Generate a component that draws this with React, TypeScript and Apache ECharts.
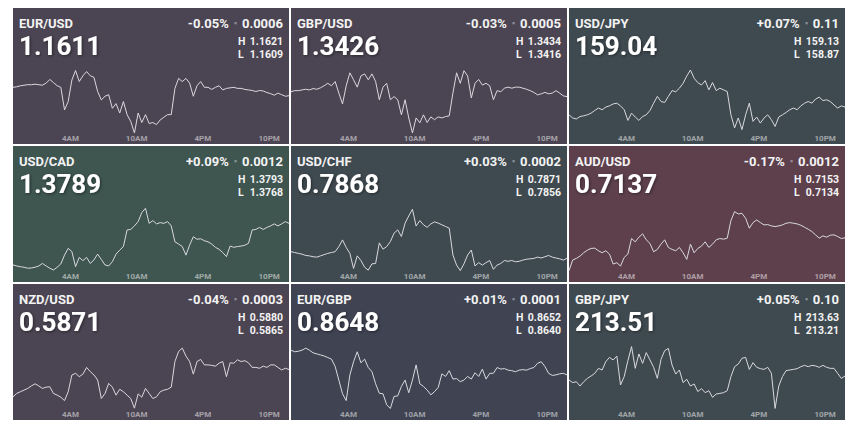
import React, { useEffect, useRef } from "react";
import * as echarts from "echarts";

// ---- data ----
const pairs = ["EUR/USD", "GBP/USD", "USD/JPY", "USD/CAD", "USD/CHF", "AUD/USD", "NZD/USD", "EUR/GBP", "GBP/JPY"];
const lastValues = ["1.1611", "1.3426", "159.04", "1.3789", "0.7868", "0.7137", "0.5871", "0.8648", "213.51"];
const changePct = ["-0.05%", "-0.03%", "+0.07%", "+0.09%", "+0.03%", "-0.17%", "-0.04%", "+0.01%", "+0.05%"];
const changeAbs = ["0.0006", "0.0005", "0.11", "0.0012", "0.0002", "0.0012", "0.0003", "0.0001", "0.10"];
const highs = ["1.1621", "1.3434", "159.13", "1.3793", "0.7871", "0.7153", "0.5880", "0.8652", "213.63"];
const lows = ["1.1609", "1.3416", "158.87", "1.3768", "0.7856", "0.7134", "0.5865", "0.8640", "213.21"];
const panelColors = ["#4b4452", "#4b4452", "#3f4a50", "#3e5550", "#3f4a50", "#5e404d", "#4b4452", "#3f4352", "#3f4a50"];

// minutes from midnight; one quote every 20 minutes starting 22:48 the previous evening
const startMinute = -72;
const stepMinutes = 20;
const endMinute = 1428;
const timeTicks = [240, 600, 960, 1320];
const timeTickLabels = ["4AM", "10AM", "4PM", "10PM"];

const eurusd = [1.16177, 1.16178, 1.1618, 1.16181, 1.16182, 1.16182, 1.16183, 1.16182, 1.16181, 1.16185, 1.16192, 1.16186, 1.1618, 1.16177, 1.16134, 1.1615, 1.16191, 1.16209, 1.16188, 1.16199, 1.16207, 1.16199, 1.16196, 1.16169, 1.16153, 1.1616, 1.16163, 1.16137, 1.16146, 1.16128, 1.1615, 1.16125, 1.16112, 1.1609, 1.16128, 1.1611, 1.16125, 1.16108, 1.1611, 1.16106, 1.16115, 1.1612, 1.16125, 1.16125, 1.16175, 1.16194, 1.16188, 1.16194, 1.16185, 1.1616, 1.1618, 1.16188, 1.16177, 1.16177, 1.16173, 1.16177, 1.1618, 1.16172, 1.16175, 1.16176, 1.16177, 1.16175, 1.16175, 1.16173, 1.16172, 1.16171, 1.16169, 1.16171, 1.1617, 1.16167, 1.16165, 1.16162, 1.16166, 1.16163, 1.1616, 1.16161];
const gbpusd = [1.34278, 1.34281, 1.34281, 1.34283, 1.34285, 1.34283, 1.34287, 1.34285, 1.34289, 1.34295, 1.34302, 1.34295, 1.34307, 1.34274, 1.34243, 1.34295, 1.34332, 1.34312, 1.34291, 1.34323, 1.34329, 1.34312, 1.34329, 1.34307, 1.34255, 1.34291, 1.34302, 1.34255, 1.34264, 1.34255, 1.34212, 1.34255, 1.34203, 1.3416, 1.34203, 1.34189, 1.34212, 1.3419, 1.34206, 1.34198, 1.34206, 1.34203, 1.34207, 1.34209, 1.34274, 1.34332, 1.34302, 1.34338, 1.34323, 1.3426, 1.34302, 1.34313, 1.34297, 1.34302, 1.34295, 1.34255, 1.34281, 1.34278, 1.34288, 1.34291, 1.34288, 1.34291, 1.34291, 1.34288, 1.34285, 1.34281, 1.34276, 1.34269, 1.34272, 1.34276, 1.34272, 1.34274, 1.34281, 1.34274, 1.34266, 1.34264];
const usdjpy = [158.945, 158.932, 158.928, 158.938, 158.941, 158.945, 158.952, 158.963, 158.973, 158.966, 158.977, 158.982, 158.99, 158.993, 158.982, 158.966, 158.922, 158.952, 158.936, 158.922, 158.938, 158.945, 158.963, 158.993, 159.021, 159.0, 158.996, 159.021, 159.045, 159.04, 159.055, 159.075, 159.105, 159.13, 159.096, 159.078, 159.068, 159.086, 159.048, 159.078, 159.045, 159.055, 159.048, 159.041, 158.945, 158.891, 158.932, 158.884, 158.945, 158.993, 158.918, 158.936, 158.911, 158.932, 158.945, 158.925, 158.897, 158.936, 158.945, 158.955, 158.966, 158.973, 158.966, 158.982, 158.993, 159.0, 158.993, 159.01, 159.018, 159.004, 159.007, 159.0, 158.986, 158.973, 158.982, 158.977];
const usdcad = [1.37704, 1.377, 1.37697, 1.37695, 1.37691, 1.37692, 1.37695, 1.377, 1.3771, 1.377, 1.37691, 1.37684, 1.37695, 1.37708, 1.37743, 1.3777, 1.37757, 1.37697, 1.37734, 1.37721, 1.37734, 1.3771, 1.37724, 1.37747, 1.37726, 1.37704, 1.377, 1.37717, 1.37747, 1.37763, 1.37777, 1.37843, 1.37845, 1.37859, 1.37876, 1.37912, 1.37929, 1.37869, 1.3788, 1.37867, 1.37872, 1.37869, 1.37876, 1.37859, 1.37796, 1.37787, 1.37777, 1.37743, 1.37783, 1.37816, 1.37806, 1.37808, 1.378, 1.37796, 1.37787, 1.37774, 1.37766, 1.37753, 1.37737, 1.37779, 1.37774, 1.37777, 1.37779, 1.37782, 1.3779, 1.37843, 1.37845, 1.37853, 1.37845, 1.37853, 1.37859, 1.37867, 1.37859, 1.37867, 1.37876, 1.37869];
const usdchf = [0.78606, 0.78604, 0.78602, 0.786, 0.78597, 0.78596, 0.78594, 0.78593, 0.78596, 0.78599, 0.78602, 0.78604, 0.78606, 0.78618, 0.78634, 0.78616, 0.78602, 0.78566, 0.78596, 0.78585, 0.78569, 0.78562, 0.78577, 0.78578, 0.78627, 0.78612, 0.78618, 0.7863, 0.7865, 0.78658, 0.78642, 0.78674, 0.78691, 0.78707, 0.78667, 0.7868, 0.7867, 0.78664, 0.78672, 0.78677, 0.78674, 0.7867, 0.78666, 0.78662, 0.78598, 0.78574, 0.78561, 0.78577, 0.78598, 0.7861, 0.78572, 0.7858, 0.78574, 0.7858, 0.78585, 0.78564, 0.78574, 0.78578, 0.78585, 0.78583, 0.78585, 0.78582, 0.78583, 0.78586, 0.78588, 0.78589, 0.7859, 0.78593, 0.78591, 0.78594, 0.78597, 0.78593, 0.78591, 0.78589, 0.78586, 0.7859];
const audusd = [0.71341, 0.71373, 0.71378, 0.71385, 0.71395, 0.71403, 0.71408, 0.71409, 0.71401, 0.71395, 0.71401, 0.71391, 0.71361, 0.71365, 0.71355, 0.71381, 0.71391, 0.71438, 0.71428, 0.71442, 0.71452, 0.71434, 0.71423, 0.71398, 0.71405, 0.71421, 0.71434, 0.71411, 0.71405, 0.71401, 0.71411, 0.71395, 0.71375, 0.71421, 0.71395, 0.71408, 0.71415, 0.71428, 0.71411, 0.71421, 0.71434, 0.71438, 0.71436, 0.71439, 0.71492, 0.71519, 0.71512, 0.71514, 0.71499, 0.71469, 0.71486, 0.71494, 0.71486, 0.71479, 0.7148, 0.71476, 0.71474, 0.71476, 0.71479, 0.71484, 0.71486, 0.71484, 0.71482, 0.71478, 0.71472, 0.71466, 0.71459, 0.71449, 0.71439, 0.71446, 0.71442, 0.71448, 0.71449, 0.71444, 0.71438, 0.7144];
const nzdusd = [0.58679, 0.58687, 0.58691, 0.58695, 0.58699, 0.58705, 0.5871, 0.58705, 0.58699, 0.58702, 0.58703, 0.58687, 0.58683, 0.58678, 0.5867, 0.58691, 0.58731, 0.58735, 0.58727, 0.58733, 0.58749, 0.58739, 0.58731, 0.58719, 0.58675, 0.58687, 0.58711, 0.58702, 0.58683, 0.58697, 0.58691, 0.58683, 0.58675, 0.58652, 0.58686, 0.58678, 0.58699, 0.58687, 0.58675, 0.58679, 0.58691, 0.58695, 0.58697, 0.58702, 0.58763, 0.58787, 0.58795, 0.58776, 0.58763, 0.58733, 0.58763, 0.58768, 0.58755, 0.58755, 0.58754, 0.58752, 0.58759, 0.58763, 0.58727, 0.5876, 0.58759, 0.58767, 0.58763, 0.58765, 0.5876, 0.58749, 0.58749, 0.58747, 0.58752, 0.58749, 0.58755, 0.58755, 0.58749, 0.58743, 0.58747, 0.58744];
const eurgbp = [0.86512, 0.86509, 0.8651, 0.86512, 0.86516, 0.86512, 0.86507, 0.86505, 0.86503, 0.86501, 0.86498, 0.86495, 0.86481, 0.86455, 0.86429, 0.86416, 0.86465, 0.8649, 0.86509, 0.86488, 0.86495, 0.86479, 0.86471, 0.86448, 0.8643, 0.86429, 0.86408, 0.86401, 0.86424, 0.86425, 0.86443, 0.86455, 0.86431, 0.86455, 0.86484, 0.86448, 0.86443, 0.86436, 0.86427, 0.86433, 0.86441, 0.86467, 0.86462, 0.86473, 0.86457, 0.86458, 0.86452, 0.86455, 0.86462, 0.86457, 0.86469, 0.86462, 0.86476, 0.86457, 0.86468, 0.86468, 0.86479, 0.86476, 0.86477, 0.86474, 0.86473, 0.86471, 0.86474, 0.86475, 0.86474, 0.86477, 0.86479, 0.86487, 0.8649, 0.86481, 0.86468, 0.86464, 0.86465, 0.86467, 0.86468, 0.86465];
const gbpjpy = [213.403, 213.386, 213.392, 213.363, 213.392, 213.414, 213.43, 213.448, 213.481, 213.47, 213.526, 213.554, 213.537, 213.563, 213.37, 213.426, 213.532, 213.626, 213.481, 213.577, 213.514, 213.586, 213.537, 213.488, 213.414, 213.541, 213.599, 213.614, 213.503, 213.443, 213.47, 213.386, 213.408, 213.363, 213.377, 213.326, 213.346, 213.319, 213.332, 213.288, 213.31, 213.314, 213.319, 213.332, 213.426, 213.492, 213.51, 213.548, 213.554, 213.474, 213.519, 213.488, 213.479, 213.474, 213.488, 213.448, 213.214, 213.363, 213.426, 213.466, 213.47, 213.474, 213.479, 213.492, 213.501, 213.492, 213.501, 213.497, 213.488, 213.501, 213.488, 213.481, 213.481, 213.448, 213.414, 213.43];

const seriesValues = [eurusd, gbpusd, usdjpy, usdcad, usdchf, audusd, nzdusd, eurgbp, gbpjpy];

// ---- layout ----
const COL_X = [13, 291, 569];
const ROW_Y = [8, 146, 284];
const PANEL_W = 276;
const PANEL_H = 136;
const FONT = "Roboto, 'Open Sans', sans-serif";

function buildOption() {
  const grids: any[] = [];
  const xAxes: any[] = [];
  const yAxes: any[] = [];
  const series: any[] = [];
  const graphics: any[] = [];

  pairs.forEach((pair, i) => {
    const px = COL_X[i % 3];
    const py = ROW_Y[Math.floor(i / 3)];

    graphics.push({
      type: "rect",
      z: -10,
      silent: true,
      shape: { x: px, y: py, width: PANEL_W, height: PANEL_H },
      style: { fill: panelColors[i] },
    });
    graphics.push({
      type: "text",
      z: 10,
      x: px + 6,
      y: py + 15,
      style: {
        text: pair,
        fill: "#f3f3f3",
        fontSize: 13,
        fontWeight: "bold",
        fontFamily: FONT,
        align: "left",
        verticalAlign: "middle",
      },
    });
    graphics.push({
      type: "text",
      z: 10,
      x: px + 6,
      y: py + 38,
      style: {
        text: lastValues[i],
        fill: "#ffffff",
        fontSize: 26,
        fontWeight: "bold",
        fontFamily: FONT,
        align: "left",
        verticalAlign: "middle",
        textShadowColor: "rgba(0,0,0,0.45)",
        textShadowBlur: 3,
        textShadowOffsetX: 1,
        textShadowOffsetY: 1,
      },
    });
    graphics.push({
      type: "text",
      z: 10,
      x: px + 270,
      y: py + 15,
      style: {
        text: `{v|${changePct[i]}}{d|\u25AA}{v|${changeAbs[i]}}`,
        align: "right",
        verticalAlign: "middle",
        rich: {
          v: { fill: "#f3f3f3", fontSize: 13, fontWeight: "bold", fontFamily: FONT },
          d: { fill: "rgba(255,255,255,0.38)", fontSize: 9, fontFamily: FONT, padding: [0, 5, 0, 5] },
        },
      },
    });
    [["H", highs[i], 33], ["L", lows[i], 46]].forEach(([k, v, dy]) => {
      graphics.push({
        type: "text",
        z: 10,
        x: px + 225,
        y: py + (dy as number),
        style: {
          text: k as string,
          fill: "#f3f3f3",
          fontSize: 10.5,
          fontWeight: "bold",
          fontFamily: FONT,
          align: "left",
          verticalAlign: "middle",
        },
      });
      graphics.push({
        type: "text",
        z: 10,
        x: px + 270,
        y: py + (dy as number),
        style: {
          text: v as string,
          fill: "#f3f3f3",
          fontSize: 10.5,
          fontWeight: "bold",
          fontFamily: FONT,
          align: "right",
          verticalAlign: "middle",
        },
      });
    });

    grids.push({ left: px, top: py + 62, width: PANEL_W, height: 63 });
    xAxes.push({
      type: "value",
      gridIndex: i,
      min: startMinute,
      max: endMinute,
      axisLine: { show: false },
      axisTick: { show: false },
      splitLine: { show: false },
      axisLabel: {
        customValues: timeTicks,
        formatter: (val: number) => timeTickLabels[timeTicks.indexOf(val)] ?? "",
        color: "rgba(255,255,255,0.5)",
        fontSize: 8,
        fontWeight: "bold",
        fontFamily: FONT,
        margin: 1,
      },
    });
    yAxes.push({
      type: "value",
      gridIndex: i,
      min: Number(lows[i]),
      max: Number(highs[i]),
      show: false,
    });
    series.push({
      type: "line",
      xAxisIndex: i,
      yAxisIndex: i,
      showSymbol: false,
      silent: true,
      clip: true,
      lineStyle: { color: "#d9d9de", width: 1 },
      data: seriesValues[i].map((v, k) => [startMinute + k * stepMinutes, v]),
    });
  });

  return {
    animation: false,
    backgroundColor: "#ffffff",
    grid: grids,
    xAxis: xAxes,
    yAxis: yAxes,
    series,
    graphic: { elements: graphics },
  };
}

export default function App() {
  const ref = useRef<HTMLDivElement>(null);
  useEffect(() => {
    if (!ref.current) return;
    const chart = echarts.init(ref.current, undefined, { renderer: "svg" });
    chart.setOption(buildOption() as any);
    return () => chart.dispose();
  }, []);
  return (
    <div
      ref={ref}
      style={{ position: "absolute", left: 0, top: 0, width: 851, height: 426 }}
    />
  );
}
